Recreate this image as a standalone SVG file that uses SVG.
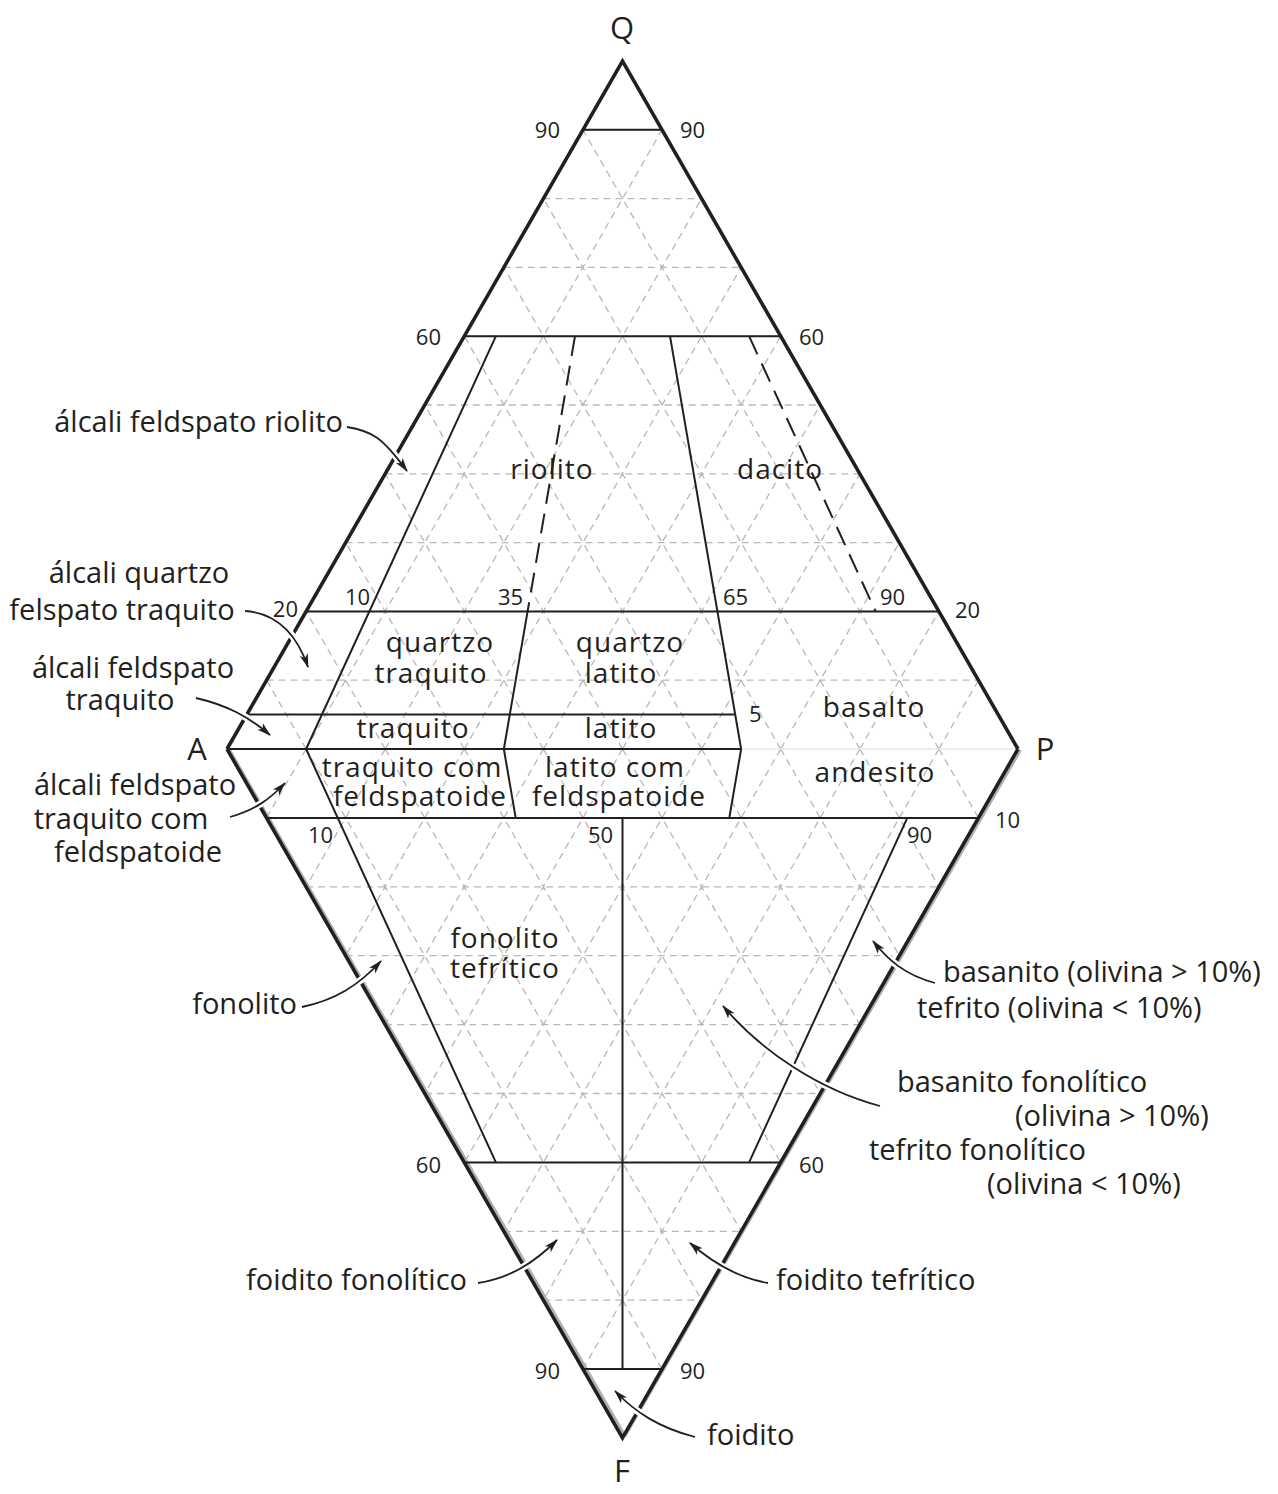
<svg xmlns="http://www.w3.org/2000/svg" width="1278" height="1494" viewBox="0 0 1278 1494">
<defs>
<style>
.grid{fill:none;stroke:#b8b8b8;stroke-width:1.3;stroke-dasharray:7 5}
.edge{fill:none;stroke:#231f20;stroke-width:3.6;stroke-linejoin:miter}
.shadow{fill:none;stroke:#b0b0b0;stroke-width:3}
.bd{fill:none;stroke:#231f20;stroke-width:2}
.dash{fill:none;stroke:#231f20;stroke-width:2;stroke-dasharray:20 10}
.halo{fill:none;stroke:#ffffff;stroke-width:7}
.arr{fill:none;stroke:#231f20;stroke-width:1.8;marker-end:url(#ah)}
text{font-family:'Open Sans','Noto Sans',sans-serif;fill:#231f20}
.lbl{font-size:29px}
.fld{font-size:28px;letter-spacing:1px;text-anchor:middle}
.num{font-size:22px}
.big{font-size:31px;text-anchor:middle}
</style>
<marker id="ah" markerWidth="15" markerHeight="10" refX="13" refY="5" orient="auto" markerUnits="userSpaceOnUse">
<path d="M0,0.8 L14,5 L0,9.2 L3.5,5 z" fill="#231f20"/>
</marker>
</defs>
<rect width="1278" height="1494" fill="#ffffff"/>

<g id="grid">
<path class="grid" d="M266.55,680.2H978.45 M306.1,611.4H938.9 M345.65,542.6H899.35 M385.2,473.8H859.8 M424.75,405H820.25 M464.3,336.2H780.7 M503.85,267.4H741.15 M543.4,198.6H701.6 M582.95,129.8H662.05
M306.1,749L662.05,129.8 M385.2,749L701.6,198.6 M464.3,749L741.15,267.4 M543.4,749L780.7,336.2 M622.5,749L820.25,405 M701.6,749L859.8,473.8 M780.7,749L899.35,542.6 M859.8,749L938.9,611.4 M938.9,749L978.45,680.2
M306.1,749L266.55,680.2 M385.2,749L306.1,611.4 M464.3,749L345.65,542.6 M543.4,749L385.2,473.8 M622.5,749L424.75,405 M701.6,749L464.3,336.2 M780.7,749L503.85,267.4 M859.8,749L543.4,198.6 M938.9,749L582.95,129.8"/>
<path class="grid" d="M266.55,817.9H978.45 M306.1,886.8H938.9 M345.65,955.7H899.35 M385.2,1024.6H859.8 M424.75,1093.5H820.25 M464.3,1162.4H780.7 M503.85,1231.3H741.15 M543.4,1300.2H701.6 M582.95,1369.1H662.05
M306.1,749L662.05,1369.1 M385.2,749L701.6,1300.2 M464.3,749L741.15,1231.3 M543.4,749L780.7,1162.4 M622.5,749L820.25,1093.5 M701.6,749L859.8,1024.6 M780.7,749L899.35,955.7 M859.8,749L938.9,886.8 M938.9,749L978.45,817.9
M306.1,749L266.55,817.9 M385.2,749L306.1,886.8 M464.3,749L345.65,955.7 M543.4,749L385.2,1024.6 M622.5,749L424.75,1093.5 M701.6,749L464.3,1162.4 M780.7,749L503.85,1231.3 M859.8,749L543.4,1300.2 M938.9,749L582.95,1369.1"/>
</g>

<g id="outline">
<path class="shadow" d="M229.5,750 L625,1436 M1020.5,750 L625,1436"/>
<line x1="741" y1="749" x2="1018" y2="749" stroke="#e8e8e8" stroke-width="1.5"/>
<path class="edge" d="M227,749 L622.5,61 L1018,749"/>
<path class="edge" d="M227,749 L622.5,1438 L1018,749"/>
</g>

<g id="boundaries">
<path class="bd" d="M582.95,129.8H662.05 M464.3,336.2H780.7 M306.1,611.4H938.9 M246.8,714.6H735.2"/>
<path class="bd" stroke-width="3" d="M227,749H741.15"/>
<path class="bd" d="M495.9,336.2L306.1,749 M527.6,611.4L503.85,749 M670,336.2L741.15,749"/>
<path class="dash" d="M575,336.2L527.6,611.4"/>
<path class="dash" d="M749.1,336.2L875.6,611.4"/>
<path class="bd" d="M266.55,817.9H978.45 M464.3,1162.4H780.7 M582.95,1369.1H662.05"/>
<path class="bd" d="M306.1,749L495.9,1162.4 M503.85,749L515.7,817.9 M741.15,749L729.3,817.9 M622.5,817.9V1369.1 M907.3,817.9L749.1,1162.4"/>
</g>

<g id="connectors">
<path class="halo" d="M347,427 C372,431 382,437 404,467"/>
<path class="halo" d="M245,611 C275,613 296,632 306,662"/>
<path class="halo" d="M196,698 C226,705 248,716 266,732"/>
<path class="halo" d="M230,817 C255,810 270,799 281,787"/>
<path class="halo" d="M302,1007 C335,1000 358,986 377,965"/>
<path class="halo" d="M935,983 C905,975 888,960 876,945"/>
<path class="halo" d="M880,1106 C820,1090 762,1052 727,1011"/>
<path class="halo" d="M478,1283 C510,1278 534,1263 553,1244"/>
<path class="halo" d="M768,1283 C738,1278 713,1263 694,1246"/>
<path class="halo" d="M695,1437 C660,1428 636,1413 619,1395"/>
<path class="arr" d="M347,427 C372,431 382,437 407,471"/>
<path class="arr" d="M245,611 C275,613 296,632 308,667"/>
<path class="arr" d="M196,698 C226,705 248,716 270,735"/>
<path class="arr" d="M230,817 C255,810 270,799 285,783"/>
<path class="arr" d="M302,1007 C335,1000 358,986 381,961"/>
<path class="arr" d="M935,983 C905,975 888,960 873,941"/>
<path class="arr" d="M880,1106 C820,1090 762,1052 723,1006"/>
<path class="arr" d="M478,1283 C510,1278 534,1263 557,1240"/>
<path class="arr" d="M768,1283 C738,1278 713,1263 690,1243"/>
<path class="arr" d="M695,1437 C660,1428 636,1413 615,1391"/>
</g>

<g id="vertices">
<g id="v-Q"><text class="big" x="622" y="39">Q</text></g>
<g id="v-A"><text class="big" x="197" y="760">A</text></g>
<g id="v-P"><text class="big" x="1045" y="760">P</text></g>
<g id="v-F"><text class="big" x="622" y="1482">F</text></g>
</g>

<g id="ticks">
<text class="num" x="560" y="138" text-anchor="end">90</text>
<text class="num" x="680" y="138">90</text>
<text class="num" x="441" y="345" text-anchor="end">60</text>
<text class="num" x="799" y="345">60</text>
<text class="num" x="298" y="617" text-anchor="end">20</text>
<text class="num" x="345" y="605">10</text>
<text class="num" x="498" y="605">35</text>
<text class="num" x="723" y="605">65</text>
<text class="num" x="880" y="605">90</text>
<text class="num" x="955" y="618">20</text>
<text class="num" x="749" y="722">5</text>
<text class="num" x="995" y="828">10</text>
<text class="num" x="308" y="843">10</text>
<text class="num" x="588" y="843">50</text>
<text class="num" x="907" y="843">90</text>
<text class="num" x="441" y="1173" text-anchor="end">60</text>
<text class="num" x="799" y="1173">60</text>
<text class="num" x="560" y="1379" text-anchor="end">90</text>
<text class="num" x="680" y="1379">90</text>
</g>

<g id="fields">
<g id="f-riolito"><text class="fld" x="552" y="479">riolito</text></g>
<g id="f-dacito"><text class="fld" x="780" y="479">dacito</text></g>
<g id="f-qtraquito"><text class="fld" x="440" y="652">quartzo</text><text class="fld" x="431" y="683">traquito</text></g>
<g id="f-qlatito"><text class="fld" x="630" y="652">quartzo</text><text class="fld" x="621" y="683">latito</text></g>
<g id="f-traquito"><text class="fld" x="413" y="738">traquito</text></g>
<g id="f-latito"><text class="fld" x="621" y="738">latito</text></g>
<g id="f-traqf"><text class="fld" x="412" y="777">traquito com</text><text class="fld" x="420" y="806">feldspatoide</text></g>
<g id="f-latf"><text class="fld" x="615" y="777">latito com</text><text class="fld" x="619" y="806">feldspatoide</text></g>
<g id="f-basalto"><text class="fld" x="874" y="717">basalto</text></g>
<g id="f-andesito"><text class="fld" x="875" y="782">andesito</text></g>
<g id="f-fonotef"><text class="fld" x="505" y="948">fonolito</text><text class="fld" x="505" y="978">tefrítico</text></g>
</g>

<g id="callouts">
<g id="c-afr"><text class="lbl" x="343" y="432" text-anchor="end">álcali feldspato riolito</text></g>
<g id="c-aqft"><text class="lbl" x="139" y="583" text-anchor="middle">álcali quartzo</text><text class="lbl" x="122" y="620" text-anchor="middle">felspato traquito</text></g>
<g id="c-aft"><text class="lbl" x="133" y="678" text-anchor="middle">álcali feldspato</text><text class="lbl" x="120" y="710" text-anchor="middle">traquito</text></g>
<g id="c-aftf"><text class="lbl" x="135" y="795" text-anchor="middle">álcali feldspato</text><text class="lbl" x="121" y="829" text-anchor="middle">traquito com</text><text class="lbl" x="138" y="862" text-anchor="middle">feldspatoide</text></g>
<g id="c-fonolito"><text class="lbl" x="297" y="1014" text-anchor="end">fonolito</text></g>
<g id="c-bas"><text class="lbl" x="943" y="982">basanito (olivina &gt; 10%)</text><text class="lbl" x="917" y="1018">tefrito (olivina &lt; 10%)</text></g>
<g id="c-basf"><text class="lbl" x="897" y="1092">basanito fonolítico</text><text class="lbl" x="1015" y="1126">(olivina &gt; 10%)</text><text class="lbl" x="869" y="1160">tefrito fonolítico</text><text class="lbl" x="987" y="1194">(olivina &lt; 10%)</text></g>
<g id="c-foifon"><text class="lbl" x="467" y="1290" text-anchor="end">foidito fonolítico</text></g>
<g id="c-foitef"><text class="lbl" x="776" y="1290">foidito tefrítico</text></g>
<g id="c-foidito"><text class="lbl" x="707" y="1445">foidito</text></g>
</g>
</svg>
